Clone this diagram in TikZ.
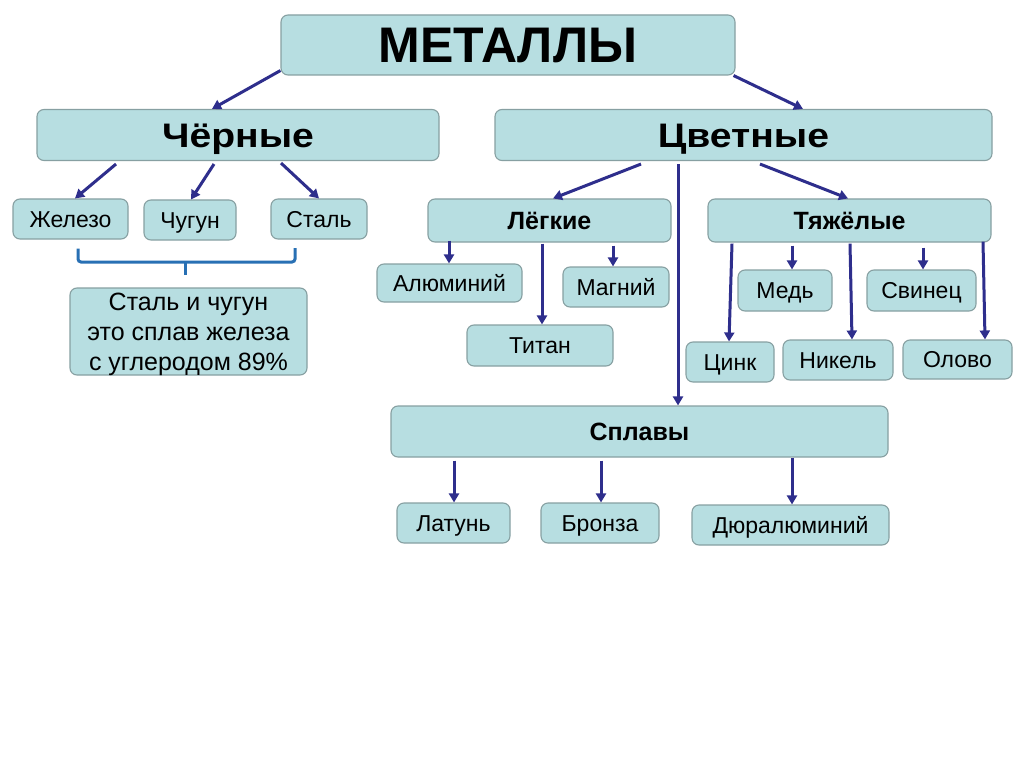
\documentclass[tikz,border=0pt]{standalone}
\usepackage{fontspec}
\setmainfont{Liberation Sans}
\newfontfamily\widefont[FakeStretch=1.15]{Liberation Sans}
\usetikzlibrary{arrows.meta}
\definecolor{boxfill}{RGB}{183,222,225}
\definecolor{boxline}{RGB}{135,160,162}
\definecolor{arrowc}{RGB}{46,46,140}
\definecolor{bracec}{RGB}{40,112,180}
\begin{document}
\begin{tikzpicture}[x=1pt,y=-1pt,
  box/.style={draw=boxline,fill=boxfill,rounded corners=7pt,line width=1.1pt,
    inner sep=0pt,text height=16.5pt,text depth=0pt,font=\fontsize{23}{25}\selectfont},
  big/.style={box,text height=24.3pt,font=\fontsize{34}{36}\selectfont\widefont\bfseries},
  mid/.style={box,text height=17.9pt,font=\fontsize{25}{27}\selectfont\bfseries},
  arr/.style={draw=arrowc,line width=3pt,-{Triangle[length=9pt,width=10pt]}},
]
\fill[white] (0,0) rectangle (1024,767);
\useasboundingbox (0,0) rectangle (1024,767);
% top level
\node[box,minimum width=454pt,minimum height=60pt,text height=35.8pt,
  font=\fontsize{50}{52}\selectfont\bfseries] (met) at (508,45) {МЕТАЛЛЫ};
\node[big,minimum width=402pt,minimum height=51pt] (chern) at (238,135) {Чёрные};
\node[big,minimum width=497pt,minimum height=51pt] (tsvet) at (743.5,135) {Цветные};
% black metals
\node[box,minimum width=115pt,minimum height=40pt] (zhel) at (70.5,219) {Железо};
\node[box,minimum width=92pt,minimum height=40pt] (chug) at (190,220) {Чугун};
\node[box,minimum width=96pt,minimum height=40pt] (stal) at (319,219) {Сталь};
\node[box,minimum width=237pt,minimum height=87pt,align=center,text height=77.9pt,text depth=0pt,
  font=\fontsize{25}{30}\selectfont] (note) at (188.5,331.5) {Сталь и чугун\\это сплав железа\\с углеродом 89\%};
% non-ferrous
\node[mid,minimum width=243pt,minimum height=43pt] (legk) at (549.5,220.5) {Лёгкие};
\node[mid,minimum width=283pt,minimum height=43pt] (tyazh) at (849.5,220.5) {Тяжёлые};
\node[box,minimum width=145pt,minimum height=38pt] (alum) at (449.5,283) {Алюминий};
\node[box,minimum width=106pt,minimum height=40pt] (magn) at (616,287) {Магний};
\node[box,minimum width=146pt,minimum height=41pt] (titan) at (540,345.5) {Титан};
\node[box,minimum width=94pt,minimum height=41pt] (med) at (785,290.5) {Медь};
\node[box,minimum width=109pt,minimum height=41pt] (svin) at (921.5,290.5) {Свинец};
\node[box,minimum width=88pt,minimum height=40pt] (tsink) at (730,362) {Цинк};
\node[box,minimum width=110pt,minimum height=40pt] (nikel) at (838,360) {Никель};
\node[box,minimum width=109pt,minimum height=39pt] (olovo) at (957.5,359.5) {Олово};
% alloys
\node[mid,minimum width=497pt,minimum height=51pt] (splav) at (639.5,431.5) {Сплавы};
\node[box,minimum width=113pt,minimum height=40pt] (latun) at (453.5,523) {Латунь};
\node[box,minimum width=118pt,minimum height=40pt] (bronz) at (600,523) {Бронза};
\node[box,minimum width=197pt,minimum height=40pt] (dural) at (790.5,525) {Дюралюминий};
% arrows
\draw[arr] (met.south west) ++(0,-5) -- (chern.north -| 212,0);
\draw[arr] (met.south east) ++(-2,0) -- (tsvet.north -| 803,0);
\draw[arr] (chern.south -| 116,0) ++(0,3) -- (zhel.north -| 75,0);
\draw[arr] (chern.south -| 214,0) ++(0,3) -- (chug.north -| 191,0);
\draw[arr] (chern.south -| 281,0) ++(0,2) -- (stal.north -| 319,0);
\draw[arr] (tsvet.south -| 641,0) ++(0,3) -- (legk.north -| 553,0);
\draw[arr] (tsvet.south -| 760,0) ++(0,3) -- (tyazh.north -| 848,0);
\draw[arr] (tsvet.south -| 678,0) ++(0,3) -- (splav.north -| 678,0);
\draw[arr] (legk.south -| 449,0) ++(0,-2) -- (alum.north -| 449,0);
\draw[arr] (legk.south -| 542,0) ++(0,1) -- (titan.north -| 542,0);
\draw[arr] (legk.south -| 613,0) ++(0,3) -- (magn.north -| 613,0);
\draw[arr] (tyazh.south -| 732,0) ++(0,1) -- (tsink.north -| 729,0);
\draw[arr] (tyazh.south -| 792,0) ++(0,3) -- (med.north -| 792,0);
\draw[arr] (tyazh.south -| 850,0) ++(0,1) -- (nikel.north -| 852,0);
\draw[arr] (tyazh.south -| 923,0) ++(0,5) -- (svin.north -| 923,0);
\draw[arr] (tyazh.south -| 983,0) ++(0,-1) -- (olovo.north -| 985,0);
\draw[arr] (splav.south -| 454,0) ++(0,3) -- (latun.north -| 454,0);
\draw[arr] (splav.south -| 601,0) ++(0,3) -- (bronz.north -| 601,0);
\draw[arr] (splav.south -| 792,0) ++(0,0) -- (dural.north -| 792,0);
% brace under the ferrous metals
\draw[bracec,line width=3pt,rounded corners=3pt] (zhel.south -| 78,0) ++(0,9) -- (78,262) -- (295,262) -- (295,248);
\draw[bracec,line width=3pt] (185,262) -- ++(0,13);
\end{tikzpicture}
\end{document}
